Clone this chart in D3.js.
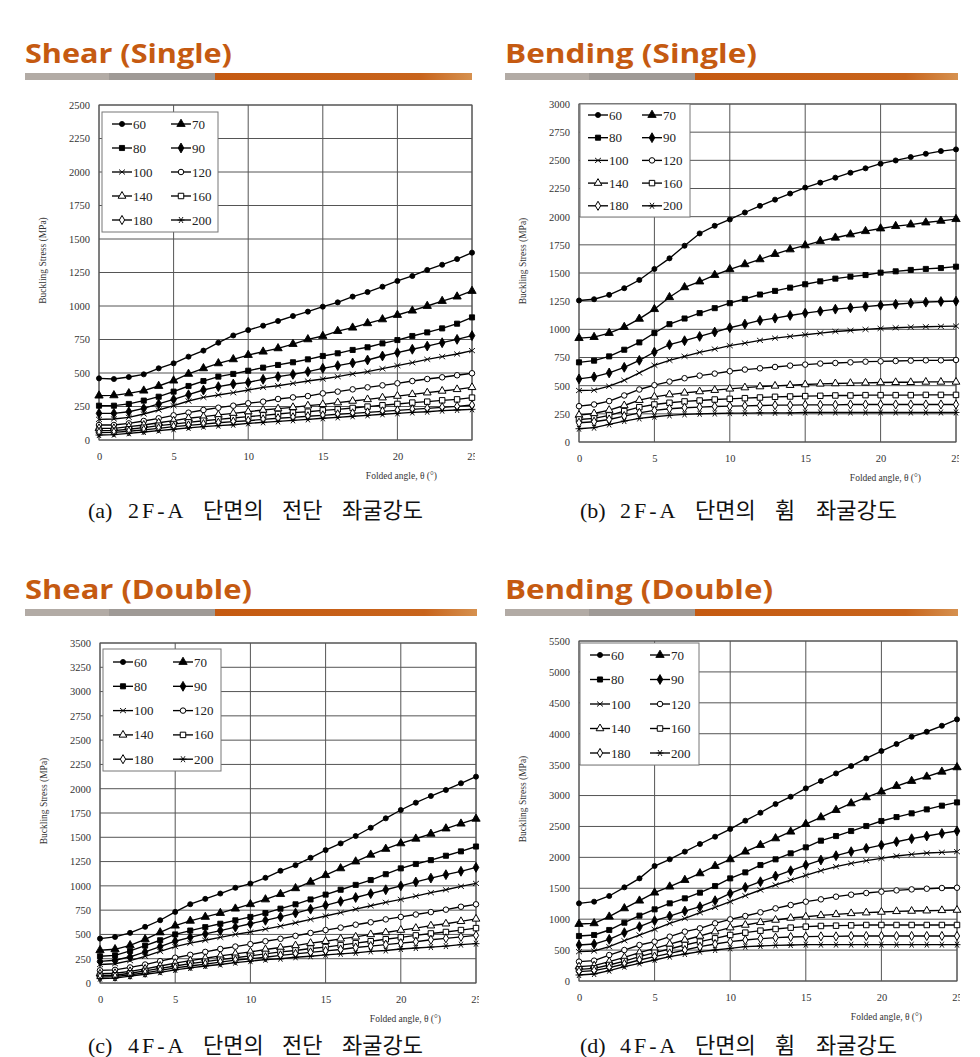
<!DOCTYPE html>
<html>
<head>
<meta charset="utf-8">
<script src="https://cdn.jsdelivr.net/npm/d3@7"></script>
<style>
body{margin:0;background:#fff}
svg{display:block}
</style>
</head>
<body>
<svg width="980" height="1057"></svg>
<script>
// folded angle (deg) and the ten series names
const angles=[0,1,2,3,4,5,6,7,8,9,10,11,12,13,14,15,16,17,18,19,20,21,22,23,24,25];
const seriesNames=['60','70','80','90','100','120','140','160','180','200'];
const xTicks=[0,5,10,15,20,25];
const yTicksShearSingle=[0,250,500,750,1000,1250,1500,1750,2000,2250,2500];
const yTicksBendSingle=[0,250,500,750,1000,1250,1500,1750,2000,2250,2500,2750,3000];
const yTicksShearDouble=[0,250,500,750,1000,1250,1500,1750,2000,2250,2500,2750,3000,3250,3500];
const yTicksBendDouble=[0,500,1000,1500,2000,2500,3000,3500,4000,4500,5000,5500];

// buckling stress (MPa), one row per series, 26 angles each
const shearSingle=[
 [460,455,470,490,535,572,622,667,726,780,820,853,888,925,958,995,1027,1070,1104,1144,1187,1224,1269,1308,1350,1398],
 [331,333,348,368,403,443,493,535,572,602,634,659,684,716,751,776,813,838,871,900,933,965,1000,1037,1070,1112],
 [256,256,269,294,323,361,403,440,473,493,517,540,560,580,602,627,647,672,692,721,746,776,803,833,868,915],
 [199,199,211,236,269,303,338,373,398,418,430,453,473,490,510,535,555,575,597,627,652,677,701,726,751,779],
 [154,157,169,194,224,256,291,318,336,353,373,393,405,423,440,455,473,493,510,532,555,577,602,622,642,667],
 [112,112,124,142,162,184,204,224,241,256,274,286,306,318,328,348,361,378,393,408,423,440,455,468,483,498],
 [87,87,100,112,129,144,162,174,187,199,211,224,234,244,256,266,279,291,303,316,328,341,353,366,378,393],
 [70,70,80,92,107,119,132,144,154,164,174,184,194,204,211,221,229,239,249,259,269,279,286,296,303,316],
 [55,57,65,75,87,100,109,119,129,137,144,154,162,169,177,184,192,199,206,214,221,229,236,244,251,261],
 [37,40,50,60,70,80,90,100,107,114,124,132,139,147,154,162,169,177,184,192,199,206,211,219,224,229]
];
const bendSingle=[
 [1256,1267,1306,1365,1438,1536,1630,1742,1851,1919,1975,2037,2096,2151,2205,2258,2302,2346,2390,2429,2470,2499,2529,2558,2582,2597],
 [922,931,967,1020,1093,1179,1285,1373,1424,1482,1533,1577,1621,1668,1709,1745,1783,1813,1842,1871,1895,1916,1930,1948,1963,1978],
 [707,722,760,819,884,967,1046,1096,1144,1188,1232,1270,1309,1341,1370,1400,1426,1450,1468,1482,1503,1515,1527,1536,1544,1556],
 [560,578,613,663,725,799,864,899,937,976,1014,1046,1079,1099,1123,1144,1161,1179,1191,1202,1214,1223,1232,1241,1247,1250],
 [457,460,495,548,613,681,725,760,796,825,855,878,902,922,937,952,967,981,990,999,1008,1014,1020,1023,1026,1029],
 [318,333,363,413,466,504,536,566,589,607,628,643,654,666,678,687,696,701,707,713,716,719,722,725,725,728],
 [239,253,283,324,371,401,421,436,448,460,472,483,492,498,504,510,516,519,522,525,528,530,530,533,533,533],
 [200,209,236,274,309,333,348,360,368,377,383,389,395,401,404,407,410,413,413,416,416,416,416,418,418,418],
 [171,180,200,230,259,280,295,304,309,315,318,321,324,327,327,330,330,330,333,333,333,333,333,333,333,333],
 [118,127,156,186,209,224,236,245,250,253,256,256,259,259,259,262,262,262,262,262,262,262,262,262,262,262]
];
const shearDouble=[
 [457,474,516,578,646,732,811,866,921,980,1024,1083,1155,1213,1289,1368,1437,1513,1598,1695,1781,1856,1925,1987,2056,2124],
 [337,347,388,450,520,590,640,680,720,765,811,860,915,975,1040,1110,1180,1250,1320,1380,1437,1485,1535,1590,1640,1690],
 [275,285,330,385,440,500,540,575,610,645,680,720,765,810,860,910,960,1010,1060,1120,1180,1225,1265,1310,1355,1405],
 [223,234,270,320,375,430,470,505,540,575,610,645,680,720,760,800,840,880,920,960,1000,1040,1080,1115,1150,1190],
 [190,198,230,275,325,375,410,440,470,500,525,555,585,620,655,690,725,760,795,830,860,895,930,960,995,1025],
 [130,135,160,190,225,260,290,320,350,375,400,430,455,485,515,545,570,600,625,655,680,705,730,755,785,810],
 [95,100,120,145,175,205,230,255,280,300,320,345,365,385,410,430,455,475,500,520,545,565,590,610,635,660],
 [75,80,100,125,150,175,200,220,240,260,280,300,320,335,355,370,390,410,430,450,470,490,510,525,545,565],
 [60,65,85,105,130,155,175,195,215,235,250,265,285,300,315,330,345,365,380,395,410,425,445,460,475,490],
 [45,50,70,90,110,135,155,175,190,210,225,240,250,265,275,290,300,310,325,335,350,360,370,380,395,405]
];
const bendDouble=[
 [1256,1283,1375,1515,1660,1860,1968,2092,2216,2334,2458,2593,2722,2862,2981,3116,3235,3358,3477,3601,3720,3833,3951,4032,4129,4232],
 [922,933,1040,1175,1299,1429,1526,1633,1741,1860,1968,2092,2199,2307,2415,2539,2647,2765,2873,2970,3062,3154,3235,3305,3385,3456],
 [728,744,825,943,1057,1159,1256,1337,1429,1536,1660,1757,1876,1968,2065,2162,2270,2345,2426,2507,2588,2652,2712,2776,2836,2889],
 [582,598,674,782,879,976,1051,1132,1202,1299,1418,1515,1606,1698,1784,1876,1957,2027,2092,2146,2199,2253,2302,2345,2388,2426],
 [474,485,555,652,744,836,933,1013,1105,1191,1283,1380,1472,1553,1633,1709,1784,1849,1903,1946,1984,2022,2049,2070,2081,2092],
 [313,329,420,501,582,636,717,798,852,933,997,1051,1111,1175,1229,1283,1321,1364,1396,1423,1445,1466,1482,1493,1504,1509],
 [232,248,313,383,458,528,598,663,728,798,863,906,949,987,1019,1040,1062,1078,1094,1105,1116,1127,1132,1137,1143,1148],
 [189,205,259,323,394,458,518,582,636,690,744,782,814,841,863,879,890,895,900,906,906,906,906,906,906,906],
 [151,167,216,275,340,394,447,501,555,598,636,663,685,701,712,717,722,722,728,728,728,728,728,728,728,728],
 [97,113,167,232,286,340,394,437,474,501,528,555,566,577,582,588,588,588,588,588,588,588,588,588,588,588]
];

const svg=d3.select('svg');
const serif='"Liberation Serif","DejaVu Serif",serif';

// orange fade used by the header bars
const grad=svg.append('defs').append('linearGradient').attr('id','barGrad');
grad.append('stop').attr('offset','0').attr('stop-color','#c55a11');
grad.append('stop').attr('offset','0.8').attr('stop-color','#c8641c');
grad.append('stop').attr('offset','1').attr('stop-color','#d6914f');

const markers=['dot','tri','sq','dia','x','ocirc','otri','osq','odia','star'];

function marker(g,type){
  let p;
  if(type==='dot'||type==='ocirc') p=d3.symbol(d3.symbolCircle,type==='dot'?20:24)();
  if(type==='tri'||type==='otri') p=d3.symbol(d3.symbolTriangle,type==='tri'?30:26)();
  if(type==='sq'||type==='osq') p=d3.symbol(d3.symbolSquare,type==='sq'?26:30)();
  if(type==='dia'||type==='odia') p=d3.symbol(d3.symbolDiamond,type==='dia'?28:24)();
  if(type==='x') p='M-3,-2.5L3,2.5M-3,2.5L3,-2.5';
  if(type==='star') p='M-3.5,0L3.5,0M-2,-3L2,3M-2,3L2,-3';
  const open=type[0]==='o';
  g.append('path').attr('d',p)
    .attr('fill',(type==='x'||type==='star')?'none':(open?'#fff':'#000'))
    .attr('stroke','#000').attr('stroke-width',open?1:0.9);
}

function header(h){
  svg.append('text').attr('x',h.x).attr('y',h.y).text(h.title)
    .attr('font-family','"Open Sans",sans-serif').attr('font-weight',700)
    .attr('font-size',27).attr('fill','#c55a11')
    .attr('textLength',h.tw).attr('lengthAdjust','spacingAndGlyphs');
  const by=h.y+10;
  svg.append('rect').attr('x',h.x).attr('y',by).attr('width',84).attr('height',7).attr('fill','#b2aba5');
  svg.append('rect').attr('x',h.x+84).attr('y',by).attr('width',106).attr('height',7).attr('fill','#9f9a96');
  svg.append('rect').attr('x',h.x+190).attr('y',by).attr('width',h.bw-190).attr('height',7).attr('fill','url(#barGrad)');
}

function panel(c,idx){
  const x=d3.scaleLinear().domain([0,25]).range([c.left,c.right]);
  const y=d3.scaleLinear().domain([0,c.yTicks[c.yTicks.length-1]]).range([c.bottom,c.top]);
  const g=svg.append('g');

  // grid + frame
  g.selectAll('.hg').data(c.yTicks).enter().append('line')
    .attr('x1',c.left).attr('x2',c.right).attr('y1',d=>y(d)).attr('y2',d=>y(d))
    .attr('stroke','#555').attr('stroke-width',1);
  g.selectAll('.vg').data(xTicks).enter().append('line')
    .attr('y1',c.top).attr('y2',c.bottom).attr('x1',d=>x(d)).attr('x2',d=>x(d))
    .attr('stroke','#555').attr('stroke-width',1);
  g.append('rect').attr('x',c.left).attr('y',c.top).attr('width',c.right-c.left).attr('height',c.bottom-c.top)
    .attr('fill','none').attr('stroke','#555');

  // axes
  const ya=g.append('g').attr('transform',`translate(${c.left},0)`)
    .call(d3.axisLeft(y).tickValues(c.yTicks).tickFormat(d3.format('d')).tickSize(0).tickPadding(9));
  ya.select('.domain').remove();
  ya.selectAll('text').attr('font-family',serif).attr('font-size',10.5).attr('fill','#333');

  // the right-most "25" is cut by the panel edge in the source
  const clipId='clip'+idx;
  svg.append('clipPath').attr('id',clipId).append('rect')
    .attr('x',c.left-20).attr('y',0).attr('width',c.right-c.left+23).attr('height',40);
  const xa=g.append('g').attr('transform',`translate(0,${c.bottom})`).attr('clip-path',`url(#${clipId})`)
    .call(d3.axisBottom(x).tickValues(xTicks).tickSize(0).tickPadding(13));
  xa.select('.domain').remove();
  xa.selectAll('text').attr('font-family',serif).attr('font-size',10.5).attr('fill','#333');

  g.append('text').text('Buckling Stress (MPa)')
    .attr('transform',`translate(${c.left-53},${(c.top+c.bottom)/2-12}) rotate(-90)`)
    .attr('text-anchor','middle').attr('font-family',serif).attr('font-size',9.5).attr('fill','#333');
  g.append('text').text('Folded angle, θ (°)')
    .attr('x',c.right-35).attr('y',c.bottom+39).attr('text-anchor','end')
    .attr('font-family',serif).attr('font-size',9.5).attr('fill','#333');

  // series
  const line=d3.line().x((d,i)=>x(angles[i])).y(d=>y(d));
  c.data.forEach((vals,s)=>{
    g.append('path').attr('d',line(vals)).attr('fill','none').attr('stroke','#000').attr('stroke-width',1.35);
    vals.forEach((v,i)=>{
      const m=g.append('g').attr('transform',`translate(${x(angles[i])},${y(v)})`);
      marker(m,markers[s]);
    });
  });

  // legend
  const L=c.legend;
  g.append('rect').attr('x',L.x).attr('y',L.y).attr('width',L.w).attr('height',L.h)
    .attr('fill','#fff').attr('stroke','#777');
  seriesNames.forEach((name,s)=>{
    const col=s%2,row=Math.floor(s/2);
    const lx=L.x+L.pad+col*L.colW, ly=L.y+L.row0+row*L.rowH;
    g.append('line').attr('x1',lx).attr('x2',lx+20).attr('y1',ly).attr('y2',ly)
      .attr('stroke','#000').attr('stroke-width',1.35);
    const m=g.append('g').attr('transform',`translate(${lx+10},${ly})`);
    marker(m,markers[s]);
    g.append('text').attr('x',lx+21).attr('y',ly+4.5).text(name)
      .attr('font-family',serif).attr('font-size',13).attr('fill','#222');
  });

  // caption, word by word (source uses a wide Batang-like face)
  const cap=svg.append('text').attr('y',c.capY)
    .attr('font-family','"Liberation Serif","Noto Sans CJK KR",serif').attr('font-size',22).attr('fill','#111');
  c.caption.split(' ').forEach((w,i)=>{
    const t=cap.append('tspan').attr('x',c.capX+c.capOff[i]).text(w);
    if(i===1) t.attr('letter-spacing',3);
  });
}

header({title:'Shear (Single)',x:25,y:63,tw:207,bw:447});
header({title:'Bending (Single)',x:505,y:63,tw:252,bw:453});
header({title:'Shear (Double)',x:25,y:599,tw:227,bw:452});
header({title:'Bending (Double)',x:505,y:599,tw:268,bw:453});

panel({data:shearSingle,yTicks:yTicksShearSingle,left:99,right:472,top:105,bottom:440,
  legend:{x:102,y:112,w:116,h:120,pad:10,colW:59,row0:12,rowH:24},
  caption:'(a) 2F-A 단면의 전단 좌굴강도',capX:88,capY:518,capOff:[0,40,115,194,254]},0);
panel({data:bendSingle,yTicks:yTicksBendSingle,left:579,right:956,top:104,bottom:442,
  legend:{x:580,y:104,w:110,h:113,pad:8,colW:54,row0:11,rowH:22.7},
  caption:'(b) 2F-A 단면의 휨 좌굴강도',capX:580,capY:518,capOff:[0,40,115,195,236]},1);
panel({data:shearDouble,yTicks:yTicksShearDouble,left:100,right:476,top:643,bottom:983,
  legend:{x:103,y:649,w:118,h:122,pad:10,colW:60,row0:13,rowH:24.3},
  caption:'(c) 4F-A 단면의 전단 좌굴강도',capX:88,capY:1053,capOff:[0,40,115,194,254]},2);
panel({data:bendDouble,yTicks:yTicksBendDouble,left:579,right:957,top:641,bottom:981,
  legend:{x:580,y:643,w:119,h:122,pad:10,colW:60,row0:12,rowH:24.5},
  caption:'(d) 4F-A 단면의 휨 좌굴강도',capX:580,capY:1053,capOff:[0,40,115,195,236]},3);
</script>
</body>
</html>
